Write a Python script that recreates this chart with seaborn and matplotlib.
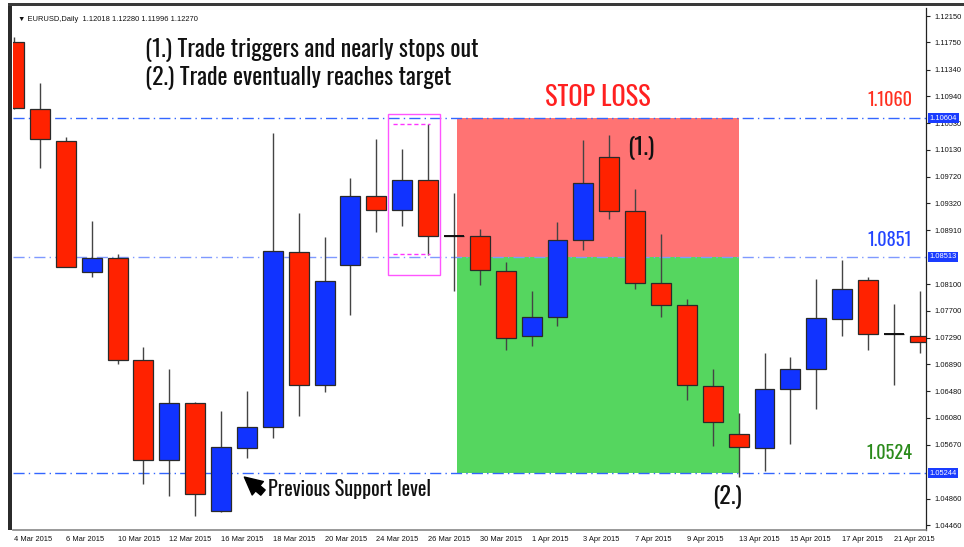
import matplotlib
matplotlib.use("Agg")
import matplotlib.pyplot as plt
from matplotlib.patches import Rectangle
from matplotlib import transforms
import seaborn as sns
import pandas as pd
import numpy as np

# --- data (EURUSD daily) ---
dates = ["4 Mar 2015", "5 Mar 2015", "6 Mar 2015", "9 Mar 2015", "10 Mar 2015", "11 Mar 2015",
         "12 Mar 2015", "13 Mar 2015", "16 Mar 2015", "17 Mar 2015", "18 Mar 2015", "19 Mar 2015",
         "20 Mar 2015", "23 Mar 2015", "24 Mar 2015", "25 Mar 2015", "26 Mar 2015", "27 Mar 2015",
         "30 Mar 2015", "31 Mar 2015", "1 Apr 2015", "2 Apr 2015", "3 Apr 2015", "6 Apr 2015",
         "7 Apr 2015", "8 Apr 2015", "9 Apr 2015", "10 Apr 2015", "13 Apr 2015", "14 Apr 2015",
         "15 Apr 2015", "16 Apr 2015", "17 Apr 2015", "20 Apr 2015", "21 Apr 2015", "22 Apr 2015"]
opens = [1.1176, 1.1074, 1.1026, 1.0829, 1.0849, 1.0695, 1.0544, 1.0631, 1.0467, 1.0563, 1.0594, 1.0859,
         1.0657, 1.0839, 1.0943, 1.0922, 1.0968, 1.0883, 1.0883, 1.0830, 1.0731, 1.0760, 1.0877, 1.1002,
         1.0920, 1.0812, 1.0778, 1.0656, 1.0583, 1.0563, 1.0652, 1.0682, 1.0757, 1.0816, 1.0734, 1.0732]
highs = [1.1183, 1.1114, 1.1032, 1.0905, 1.0855, 1.0715, 1.0682, 1.0632, 1.0618, 1.0648, 1.1039, 1.0918,
         1.0881, 1.0971, 1.1029, 1.1014, 1.1052, 1.0948, 1.0893, 1.0844, 1.0799, 1.0904, 1.1027, 1.1035,
         1.0954, 1.0886, 1.0787, 1.0682, 1.0616, 1.0706, 1.0700, 1.0818, 1.0847, 1.0820, 1.0780, 1.0800]
lows = [1.1075, 1.0986, 1.0836, 1.0820, 1.0689, 1.0508, 1.0490, 1.0459, 1.0465, 1.0548, 1.0577, 1.0611,
        1.0647, 1.0764, 1.0889, 1.0898, 1.0854, 1.0799, 1.0808, 1.0710, 1.0716, 1.0747, 1.0862, 1.0908,
        1.0802, 1.0761, 1.0635, 1.0565, 1.0518, 1.0528, 1.0568, 1.0622, 1.0731, 1.0710, 1.0658, 1.0706]
closes = [1.1076, 1.1029, 1.0836, 1.0850, 1.0695, 1.0544, 1.0631, 1.0493, 1.0564, 1.0594, 1.0860, 1.0657,
          1.0814, 1.0943, 1.0922, 1.0968, 1.0882, 1.0883, 1.0831, 1.0728, 1.0760, 1.0877, 1.0962, 1.0920,
          1.0812, 1.0778, 1.0657, 1.0601, 1.0564, 1.0652, 1.0682, 1.0759, 1.0803, 1.0735, 1.0734, 1.0722]

price_ticks = [1.12150, 1.11750, 1.11340, 1.10940, 1.10530, 1.10130, 1.09720, 1.09320, 1.08910,
               1.08100, 1.07700, 1.07290, 1.06890, 1.06480, 1.06080, 1.05670, 1.04860, 1.04460]
stop_level = 1.10604
entry_level = 1.08513
target_level = 1.05244
trade_start, trade_end = 17.1, 28.0   # bar index range of the trade boxes

df = pd.DataFrame({"date": dates, "open": opens, "high": highs, "low": lows, "close": closes})
df["idx"] = np.arange(len(df))
df["up"] = df["close"] >= df["open"]

sns.set_theme(style="white")
plt.rcParams["font.family"] = ["Liberation Sans", "DejaVu Sans"]
big_font = ["Oswald", "DejaVu Sans"]
small = 5.4

fig = plt.figure(figsize=(9.64, 5.47), dpi=100)
ax = fig.add_axes([13 / 964, 17 / 547, 913 / 964, 522 / 547])

RED = "#ff2200"
BLUE = "#1133ff"
LINE = "#3366ff"

# trade zones
ax.add_patch(Rectangle((trade_start, entry_level), trade_end - trade_start, stop_level - entry_level,
                       facecolor="#ff7373", edgecolor="none", zorder=0.5))
ax.add_patch(Rectangle((trade_start, target_level), trade_end - trade_start, entry_level - target_level,
                       facecolor="#55d65f", edgecolor="none", zorder=0.5))

# levels
for lvl, c in [(stop_level, LINE), (entry_level, "#7f99ff"), (target_level, LINE)]:
    ax.axhline(lvl, color=c, lw=1, ls=(0, (8, 3, 1, 3)), zorder=1)

# candles
ax.vlines(df["idx"], df["low"], df["high"], color="#444444", lw=1, zorder=2)
body_lo = df[["open", "close"]].min(axis=1)
body_hi = df[["open", "close"]].max(axis=1)
colors = np.where(df["up"], BLUE, RED)
ax.bar(df["idx"], body_hi - body_lo, bottom=body_lo, width=0.77, color=colors,
       edgecolor="#2a2a2a", linewidth=0.9, zorder=3)
doji = df[body_hi - body_lo < 0.00005]
ax.hlines(doji["open"], doji["idx"] - 0.4, doji["idx"] + 0.4, color="#111111", lw=1.4, zorder=3)

# magenta setup box
ax.add_patch(Rectangle((14.45, 1.08237), 2.01, 1.10669 - 1.08237, fill=False,
                       edgecolor="#ff55ff", lw=1, zorder=4))
ax.hlines([1.10518, 1.08550], 14.65, 16.07, color="#ff33ff", lw=1, ls=(0, (3, 2)), zorder=4)

# axes
ax.set_xlim(-0.04, 35.24)
ax.set_ylim(1.04385, 1.12271)
ax.yaxis.tick_right()
ax.set_yticks(price_ticks)
ax.set_yticklabels([f"{v:.5f}" for v in price_ticks])
ax.set_xticks(df["idx"][::2])
ax.set_xticklabels(df["date"][::2], ha="left")
ax.tick_params(axis="both", labelsize=small, length=3, width=0.8, color="#222222",
               labelcolor="#111111", pad=3, direction="out")
ax.tick_params(axis="x", pad=1)
for side in ["top", "left"]:
    ax.spines[side].set_visible(False)
ax.spines["right"].set_color("#222222")
ax.spines["bottom"].set_color("#888888")
ax.spines["right"].set_linewidth(0.9)
ax.spines["bottom"].set_linewidth(1.2)

# highlighted price labels on the axis
ytrans = transforms.blended_transform_factory(ax.transAxes, ax.transData)
for lvl in [stop_level, entry_level, target_level]:
    ax.text(1.004, lvl, f"{lvl:.5f}", transform=ytrans, fontsize=small, color="white", va="center",
            ha="left", bbox=dict(boxstyle="square,pad=0.2", facecolor="#1a3cff", edgecolor="none"),
            zorder=10, clip_on=False)

# header
ax.text(5 / 913, 0.985, "\u25bc EURUSD,Daily  1.12018 1.12280 1.11996 1.12270", transform=ax.transAxes,
        fontsize=small, color="#111111", va="top", ha="left")

# annotations
ax.text(5.06, 1.11636, "(1.) Trade triggers and nearly stops out", family=big_font, fontsize=17.2,
        color="#111111", va="center", ha="left")
ax.text(5.06, 1.11213, "(2.) Trade eventually reaches target", family=big_font, fontsize=17.2,
        color="#111111", va="center", ha="left")
ax.text(22.57, 1.10926, "STOP LOSS", family=big_font, fontsize=19, color="#ff2020", va="center", ha="center")
ax.text(34.7, 1.10881, "1.1060", family=big_font, fontsize=13.2, color="#ff3020", va="center", ha="right")
ax.text(34.7, 1.08766, "1.0851", family=big_font, fontsize=13.2, color="#2244ff", va="center", ha="right")
ax.text(34.7, 1.05548, "1.0524", family=big_font, fontsize=13.2, color="#2a8a1a", va="center", ha="right")
ax.text(24.23, 1.10156, "(1.)", family=big_font, fontsize=17.5, color="#111111", va="center", ha="center")
ax.text(27.55, 1.04883, "(2.)", family=big_font, fontsize=17.5, color="#111111", va="center", ha="center")
ax.annotate("", xy=(8.90, 1.05185), xytext=(9.62, 1.04950),
            arrowprops=dict(arrowstyle="simple,head_length=0.9,head_width=0.9,tail_width=0.35",
                            color="black", mutation_scale=14, shrinkA=0, shrinkB=0))
ax.text(9.81, 1.05004, "Previous Support level", family=big_font, fontsize=14.6, color="#111111",
        va="center", ha="left")

# terminal window frame
fig.add_artist(Rectangle((8 / 964, 17 / 547), 4 / 964, 527 / 547, transform=fig.transFigure,
                         facecolor="#2b2b2b", edgecolor="none"))
fig.add_artist(Rectangle((8 / 964, 541 / 547), 956 / 964, 3 / 547, transform=fig.transFigure,
                         facecolor="#3a3a3a", edgecolor="none"))

fig.savefig("out.png", dpi=100)
